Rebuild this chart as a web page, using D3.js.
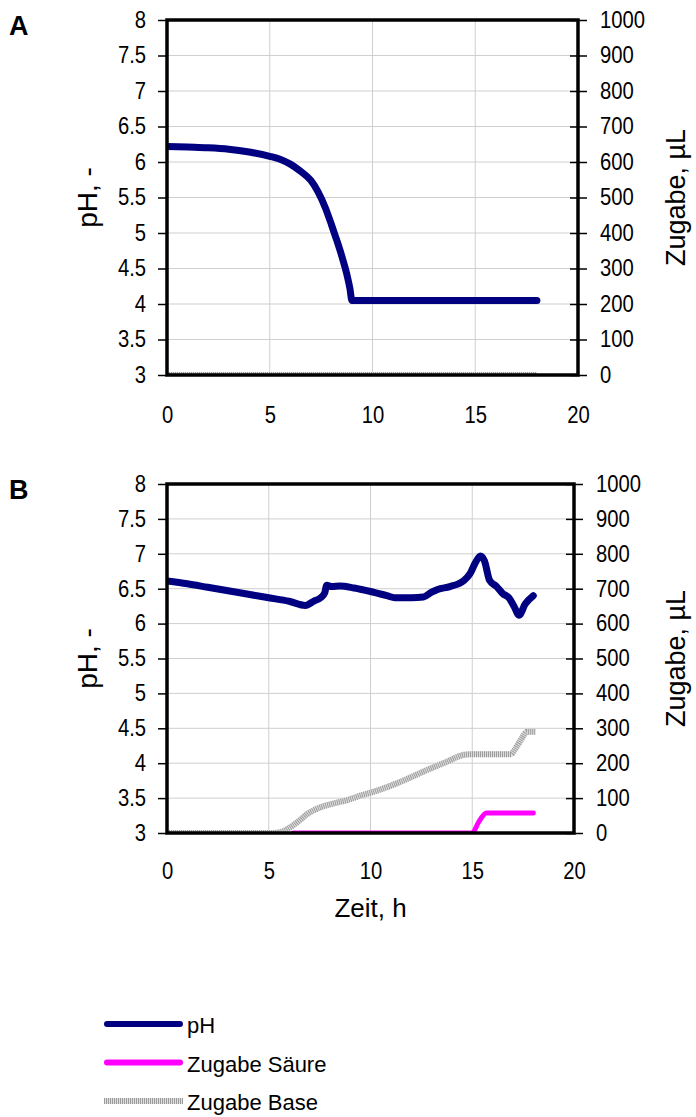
<!DOCTYPE html>
<html>
  <head>
    <meta charset="utf-8">
    <title>pH und Zugabe</title>
    <script src="https://d3js.org/d3.v7.min.js"></script>
    <style>
      body { margin: 0; background: #fff; }
      text { font-family: "Liberation Sans", Arial, sans-serif; fill: #000; }
    </style>
  </head>
  <body>
    <script>

    // axis ticks
    var timeTicks = [0, 5, 10, 15, 20];
    var phTicks = [3, 3.5, 4, 4.5, 5, 5.5, 6, 6.5, 7, 7.5, 8];
    var doseTicks = [0, 100, 200, 300, 400, 500, 600, 700, 800, 900, 1000];

    // panel A
    var timeA_pH = [0, 1, 2, 3, 4, 5, 5.5, 6, 6.5, 7, 7.35, 7.7, 8.0, 8.2, 8.5, 8.75, 8.9, 9.0, 18];
    var phA      = [6.22, 6.21, 6.2, 6.18, 6.14, 6.08, 6.04, 5.97, 5.87, 5.74, 5.58, 5.36, 5.12, 4.95, 4.68, 4.42, 4.22, 4.05, 4.05];
    var timeA_base = [0, 18];
    var baseA      = [0, 0];
    var timeA_acid = [];
    var acidA      = [];

    // panel B
    var timeB_pH = [0, 1, 2, 3, 4, 5, 6, 6.8, 7.2, 7.55, 7.75, 7.85, 8.1, 8.5, 9.2, 10, 10.8, 11.2, 12, 12.6, 13, 13.3, 13.9, 14.6, 14.9, 15.15, 15.4, 15.6, 15.85, 16.2, 16.5, 16.8, 17.05, 17.3, 17.6, 18.0];
    var phB      = [6.61, 6.57, 6.52, 6.47, 6.42, 6.37, 6.32, 6.26, 6.32, 6.37, 6.44, 6.55, 6.53, 6.54, 6.51, 6.46, 6.40, 6.37, 6.37, 6.38, 6.45, 6.49, 6.53, 6.62, 6.72, 6.87, 6.97, 6.9, 6.62, 6.53, 6.43, 6.37, 6.25, 6.12, 6.28, 6.40];
    var timeB_base = [0, 5.2, 5.7, 6.2, 6.6, 6.9, 7.2, 7.6, 8.2, 8.9, 9.5, 10.2, 11.1, 11.8, 12.8, 13.7, 14.6, 15, 16.9, 17.1, 17.4, 17.7, 18.1];
    var baseB      = [0, 0, 5, 22, 40, 55, 65, 75, 85, 95, 107, 119, 138, 155, 181, 203, 224, 226, 226, 240, 268, 290, 290];
    var timeB_acid = [6.2, 15.0, 15.3, 15.7, 18.0];
    var acidB      = [0, 0, 30, 57, 57];

    var legendNames = ["pH", "Zugabe Säure", "Zugabe Base"];

    var width = 696, height = 1117;
    var SX = 0.88;   // tick labels look a bit narrow

    var svg = d3.select("body").append("svg")
                .attr("width", width)
                .attr("height", height);

    function zip(xs, ys) { return xs.map(function(d, i) { return [d, ys[i]]; }); }

    function drawPanel(id, box, letter, data, showXTitle) {
      var x = d3.scaleLinear().domain([0, 20]).range([box.left, box.right]);
      var y = d3.scaleLinear().domain([3, 8]).range([box.bottom, box.top]);
      var y2 = d3.scaleLinear().domain([0, 1000]).range([box.bottom, box.top]);

      var g = svg.append("g");

      // grid
      g.append("g").selectAll("line").data(phTicks.slice(1, -1)).enter().append("line")
        .attr("x1", box.left).attr("x2", box.right)
        .attr("y1", function(d) { return y(d); }).attr("y2", function(d) { return y(d); })
        .attr("stroke", "#cfcfcf").attr("stroke-width", 1);
      g.append("g").selectAll("line").data(timeTicks.slice(1, -1)).enter().append("line")
        .attr("y1", box.top).attr("y2", box.bottom)
        .attr("x1", function(d) { return x(d); }).attr("x2", function(d) { return x(d); })
        .attr("stroke", "#cfcfcf").attr("stroke-width", 1);

      svg.append("clipPath").attr("id", "clip" + id).append("rect")
        .attr("x", box.left).attr("y", box.top)
        .attr("width", box.right - box.left).attr("height", box.bottom - box.top);

      var lines = g.append("g").attr("clip-path", "url(#clip" + id + ")");
      var lineL = d3.line().x(function(d) { return x(d[0]); }).y(function(d) { return y(d[1]); }).curve(d3.curveMonotoneX);
      var lineR = d3.line().x(function(d) { return x(d[0]); }).y(function(d) { return y2(d[1]); }).curve(d3.curveMonotoneX);

      // base (hatched gray)
      var base = zip(data.baseT, data.base);
      lines.append("path").attr("d", lineR(base)).attr("fill", "none")
        .attr("stroke", "#e0e0e0").attr("stroke-width", 6);
      lines.append("path").attr("d", lineR(base)).attr("fill", "none")
        .attr("stroke", "#9a9a9a").attr("stroke-width", 6).attr("stroke-dasharray", "1,1");
      // acid
      if (data.acidT.length) {
        lines.append("path").attr("d", lineR(zip(data.acidT, data.acid))).attr("fill", "none")
          .attr("stroke", "#ff00ff").attr("stroke-width", 5).attr("stroke-linecap", "round");
      }
      // pH
      lines.append("path").attr("d", lineL(zip(data.phT, data.ph))).attr("fill", "none")
        .attr("stroke", "#000080").attr("stroke-width", 7)
        .attr("stroke-linecap", "round").attr("stroke-linejoin", "round");

      // frame
      g.append("rect").attr("x", box.left).attr("y", box.top)
        .attr("width", box.right - box.left).attr("height", box.bottom - box.top)
        .attr("fill", "none").attr("stroke", "#000").attr("stroke-width", 3.5);

      // left axis
      var ax = g.append("g").attr("transform", "translate(" + box.left + ",0)")
        .call(d3.axisLeft(y).tickValues(phTicks).tickSize(9).tickFormat(function(d) { return d; }));
      ax.select(".domain").remove();
      ax.selectAll("line").attr("stroke", "#000").attr("stroke-width", 1.5);
      ax.selectAll("text").attr("font-size", 23).attr("x", -21 / SX).attr("transform", "scale(" + SX + ",1)")
        .attr("font-family", null);

      // right axis
      var ar = g.append("g").attr("transform", "translate(" + box.right + ",0)")
        .call(d3.axisRight(y2).tickValues(doseTicks).tickSize(9).tickFormat(function(d) { return d; }));
      ar.select(".domain").remove();
      ar.selectAll("line").attr("x1", -8).attr("stroke", "#000").attr("stroke-width", 1.5);
      ar.selectAll("text").attr("font-size", 23).attr("x", 22 / SX).attr("transform", "scale(" + SX + ",1)")
        .attr("font-family", null);

      // bottom axis
      var ab = g.append("g").attr("transform", "translate(0," + box.bottom + ")")
        .call(d3.axisBottom(x).tickValues(timeTicks).tickSize(0));
      ab.select(".domain").remove();
      ab.selectAll("text").attr("font-size", 23).attr("x", 0).attr("y", box.labelDy).attr("dy", 0)
        .attr("transform", "scale(" + SX + ",1)")
        .attr("font-family", null);

      // axis titles
      var midY = (box.top + box.bottom) / 2;
      g.append("text").attr("transform", "translate(97," + midY + ") rotate(-90)")
        .attr("text-anchor", "middle").attr("font-size", 28).text("pH, -");
      g.append("text").attr("transform", "translate(685," + midY + ") rotate(-90)")
        .attr("text-anchor", "middle").attr("font-size", 27).text("Zugabe, \u00b5L");
      if (showXTitle) {
        g.append("text").attr("x", (box.left + box.right) / 2).attr("y", box.bottom + 84)
          .attr("text-anchor", "middle").attr("font-size", 26).text("Zeit, h");
      }

      g.append("text").attr("x", 9).attr("y", box.top + 15)
        .attr("font-size", 27).attr("font-weight", "bold").text(letter);
    }

    drawPanel("A", { left: 167, right: 578, top: 20, bottom: 375, labelDy: 48 }, "A",
      { phT: timeA_pH, ph: phA, baseT: timeA_base, base: baseA, acidT: timeA_acid, acid: acidA }, false);
    drawPanel("B", { left: 167, right: 574, top: 484, bottom: 833, labelDy: 46 }, "B",
      { phT: timeB_pH, ph: phB, baseT: timeB_base, base: baseB, acidT: timeB_acid, acid: acidB }, true);

    // legend
    var legendY = d3.scalePoint().domain(legendNames).range([1024, 1101]);
    var leg = svg.append("g");
    legendNames.forEach(function(name, i) {
      var ly = legendY(name);
      if (i === 2) {
        leg.append("line").attr("x1", 104).attr("x2", 183).attr("y1", ly).attr("y2", ly)
          .attr("stroke", "#e0e0e0").attr("stroke-width", 6);
        leg.append("line").attr("x1", 104).attr("x2", 183).attr("y1", ly).attr("y2", ly)
          .attr("stroke", "#9a9a9a").attr("stroke-width", 6).attr("stroke-dasharray", "1,1");
      } else {
        leg.append("line").attr("x1", 107).attr("x2", 180).attr("y1", ly).attr("y2", ly)
          .attr("stroke", i === 0 ? "#000080" : "#ff00ff").attr("stroke-width", 6)
          .attr("stroke-linecap", "round");
      }
      leg.append("text").attr("x", 187).attr("y", ly + 9).attr("font-size", 22).text(name);
    });

    </script>
  </body>
</html>
